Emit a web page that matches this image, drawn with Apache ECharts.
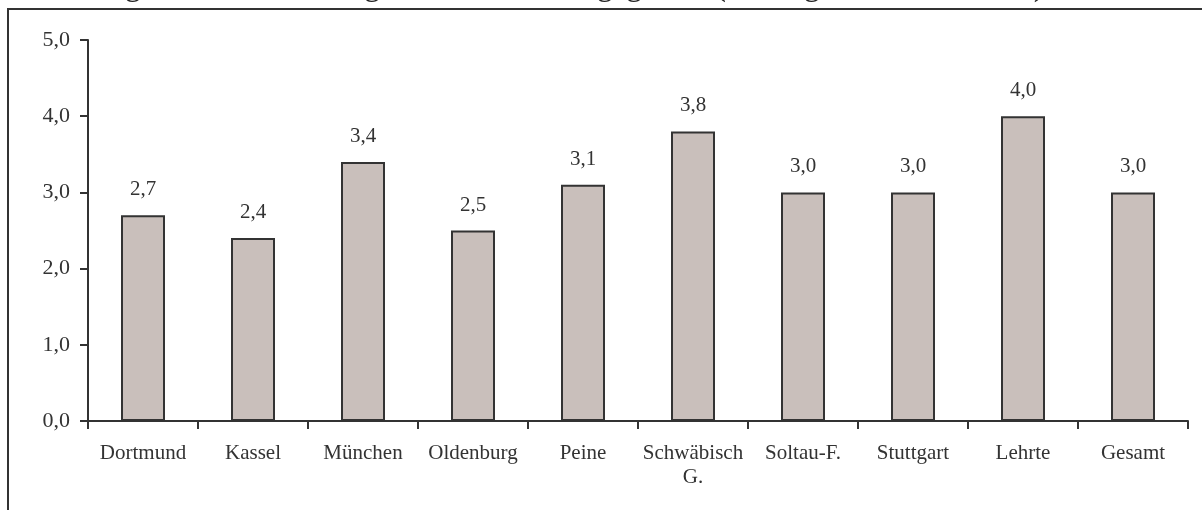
<!DOCTYPE html>
<html>
<head>
<meta charset="utf-8">
<script src="https://cdn.jsdelivr.net/npm/echarts@6/dist/echarts.min.js"></script>
<style>
  html, body { margin: 0; padding: 0; background: #fff; }
  #chart { width: 1202px; height: 510px; }
</style>
</head>
<body>
<div id="chart"></div>
<script>
// Abbildung 4.30 – ADHS-Diagnose nach Einzugsgebiet
const categories = ["Dortmund", "Kassel", "München", "Oldenburg", "Peine", "Schwäbisch G.", "Soltau-F.", "Stuttgart", "Lehrte", "Gesamt"];
const values = [2.7, 2.4, 3.4, 2.5, 3.1, 3.8, 3.0, 3.0, 4.0, 3.0];
const yTicks = [0, 1, 2, 3, 4, 5];

const font = '"Liberation Serif", "DejaVu Serif", serif';
const comma = (v) => v.toFixed(1).replace(".", ",");

const myChart = echarts.init(document.getElementById("chart"), null, { renderer: "canvas" });

const option = {
  animation: false,
  backgroundColor: "#fff",
  graphic: [
    {
      // Bildunterschrift ist oben abgeschnitten, nur die Unterkante bleibt sichtbar
      type: "text",
      x: 0,
      y: -14,
      style: {
        text: "Abbildung 4.30 ADHS-Diagnose nach Einzugsgebiet (in %, gewichtete Daten)",
        font: '33px "Liberation Serif", serif',
        fill: "#222",
        verticalAlign: "middle"
      }
    },
    {
      type: "rect",
      shape: { x: 8, y: 9, width: 1400, height: 700 },
      style: { fill: "none", stroke: "#333", lineWidth: 2 }
    }
  ],
  grid: { left: 88, right: 14, top: 40, bottom: 89 },
  xAxis: {
    type: "category",
    data: categories,
    axisLine: { lineStyle: { color: "#333", width: 2 } },
    axisTick: { show: true, length: 8, lineStyle: { color: "#333", width: 2 } },
    axisLabel: {
      margin: 20,
      color: "#333",
      fontFamily: font,
      fontSize: 21,
      lineHeight: 24,
      interval: 0,
      formatter: (v) => v.replace("Schwäbisch ", "Schwäbisch\n")
    }
  },
  yAxis: {
    type: "value",
    min: yTicks[0],
    max: yTicks[yTicks.length - 1],
    interval: 1,
    splitLine: { show: false },
    axisLine: { show: true, lineStyle: { color: "#333", width: 2 } },
    axisTick: { show: true, length: 8, lineStyle: { color: "#333", width: 2 } },
    axisLabel: {
      margin: 18,
      color: "#333",
      fontFamily: font,
      fontSize: 22,
      formatter: (v) => comma(v)
    }
  },
  series: [
    {
      type: "bar",
      data: values,
      barWidth: 44,
      itemStyle: { color: "#c9bfbb", borderColor: "#333", borderWidth: 2 },
      label: {
        show: true,
        position: "top",
        distance: 15,
        color: "#333",
        fontFamily: font,
        fontSize: 21,
        formatter: (p) => comma(p.value)
      }
    }
  ]
};

myChart.setOption(option);
</script>
</body>
</html>
